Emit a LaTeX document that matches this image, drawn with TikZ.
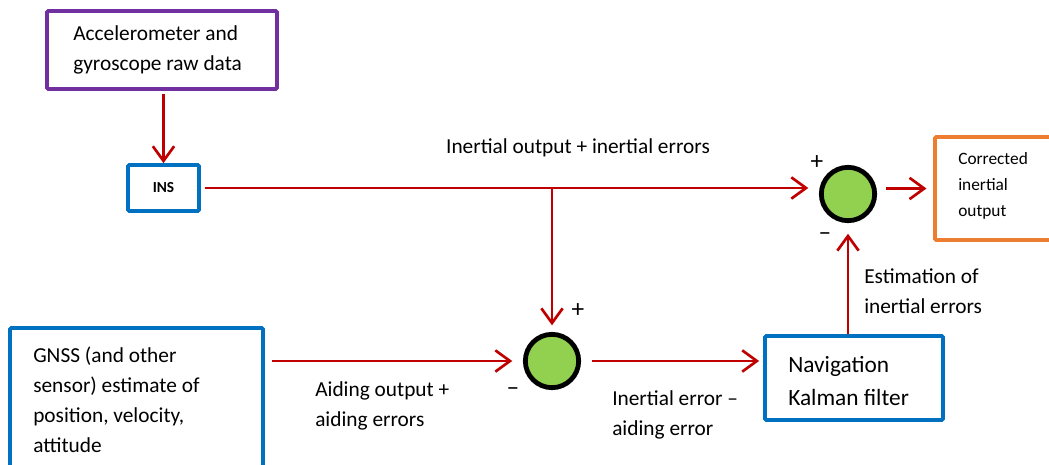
\documentclass[tikz,border=0pt]{standalone}
\usepackage{fontspec}
\setmainfont{Carlito}
\usetikzlibrary{arrows.meta,calc}
\definecolor{cred}{HTML}{C00000}
\definecolor{cblue}{HTML}{0070C0}
\definecolor{cpurple}{HTML}{7030A0}
\definecolor{corange}{HTML}{ED7D31}
\definecolor{cgreen}{HTML}{92D050}
\tikzset{
  box/.style={draw, line width=2.8pt, rounded corners=1pt, inner sep=0pt},
  sumnode/.style={circle, draw=black, line width=3.6pt, fill=cgreen, minimum size=40pt, inner sep=0pt},
  conn/.style={cred, line width=2pt, -{Straight Barb[length=11pt,width=16pt,line width=2pt]}},
  line/.style={cred, line width=2pt},
  txt/.style={align=left, inner sep=0pt, font=\fontsize{16}{22.5}\selectfont},
  sgn/.style={inner sep=0pt, font=\fontsize{19}{20}\selectfont},
}
\begin{document}
\begin{tikzpicture}[x=0.75pt,y=-0.75pt]
\clip (0,0) rectangle (1049,464);
\fill[white] (0,0) rectangle (1049,464);
% boxes
\node[box, draw=cpurple, minimum width=172.5pt, minimum height=58.5pt] (acc) at (162,50) {};
\node[box, draw=cblue, minimum width=53.25pt, minimum height=34.5pt, font=\fontsize{11.5}{13}\selectfont\bfseries] (ins) at (163.5,188) {INS};
\node[box, draw=corange, minimum width=90pt, minimum height=77.25pt] (corr) at (995,188.5) {};
\node[box, draw=cblue, minimum width=189.75pt, minimum height=106.5pt] (gnss) at (136.5,399) {};
\node[box, draw=cblue, minimum width=133.5pt, minimum height=63pt] (kf) at (854,378) {};
% sums
\node[sumnode] (s1) at (848,194) {};
\node[sumnode] (s2) at (552,361) {};
% texts in boxes
\node[txt, anchor=west] (acct) at (73,50) {Accelerometer and\\gyroscope raw data};
\node[txt, anchor=west, font=\fontsize{13}{19.5}\selectfont] (corrt) at (958,186) {Corrected\\inertial\\output};
\node[txt, anchor=west] (gnsst) at (33,400) {GNSS (and other\\sensor) estimate of\\position, velocity,\\attitude};
\node[txt, anchor=west, font=\fontsize{17.5}{24.75}\selectfont] (kft) at (788,381.5) {Navigation\\Kalman filter};
% labels
\node[txt] (l1) at (578,148) {Inertial output + inertial errors};
\node[txt, anchor=west] (l2) at (315,406) {Aiding output +\\aiding errors};
\node[txt, anchor=west] (l3) at (612,415) {Inertial error –\\aiding error};
\node[txt, anchor=west] (l4) at (864,291) {Estimation of\\inertial errors};
\node[sgn] (p1) at (817,163) {+};
\node[sgn] (m1) at (825,237) {–};
\node[sgn] (p2) at (578,311) {+};
\node[sgn] (m2) at (513,392) {–};
% connectors
\coordinate (j) at (s2 |- ins.east);
\draw[conn, shorten <=2pt] (acc.south -| ins) -- (ins.north);
\draw[line, shorten <=3pt] (ins.east) -- (j);
\draw[conn, shorten >=8pt] (j) -- (ins.east -| s1.west);
\draw[conn, shorten <=7pt, shorten >=5pt] (s1.east |- corr.west) -- (corr.west);
\draw[conn, shorten >=5pt] (j) -- (s2.north);
\draw[conn, shorten <=5pt, shorten >=8pt] (gnss.east |- s2.west) -- (s2.west);
\draw[conn, shorten <=8pt, shorten >=3pt] (s2.east) -- (kf.west |- s2.east);
\draw[conn, shorten >=8pt] (kf.north -| s1) -- (s1.south);
\end{tikzpicture}
\end{document}
